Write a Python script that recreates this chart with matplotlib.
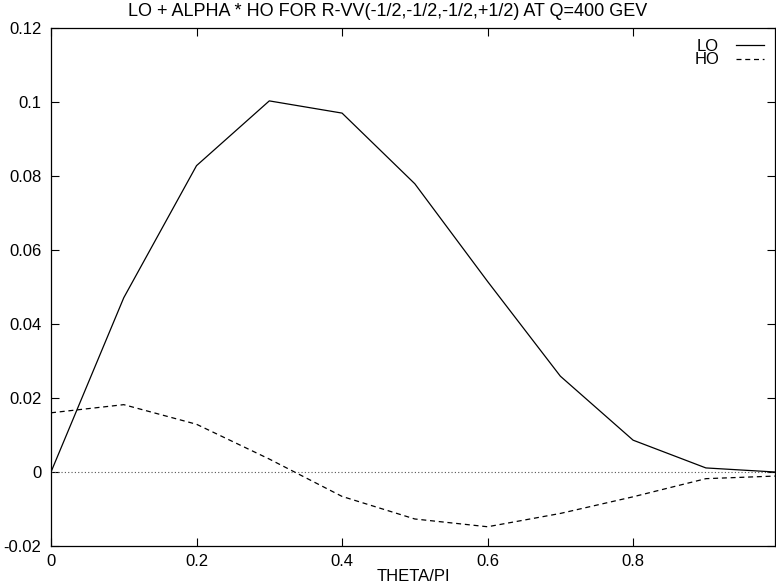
import matplotlib.pyplot as plt
import numpy as np

plt.rcParams['font.family'] = ['Liberation Sans', 'DejaVu Sans']

# theta/pi grid og verdiene lest av figuren
theta = [0.0, 0.1, 0.2, 0.3, 0.4, 0.5, 0.6, 0.7, 0.8, 0.9, 0.995]
lo = [0.0, 0.0471, 0.0828, 0.1003, 0.0970, 0.0779, 0.0515, 0.0259, 0.0086, 0.0011, 0.0]
ho = [0.0160, 0.0182, 0.0129, 0.0035, -0.0066, -0.0127, -0.0148, -0.0112, -0.0067, -0.0018, -0.0011]

xticks = [0, 0.2, 0.4, 0.6, 0.8]
yticks = [-0.02, 0, 0.02, 0.04, 0.06, 0.08, 0.1, 0.12]

fig = plt.figure(figsize=(7.76, 5.86), dpi=100)
ax = fig.add_axes([51/776, 40/586, 724/776, 518/586])

ax.axhline(0, color='#555555', lw=0.8, ls=(0, (1, 2)))
ax.plot(theta, lo, color='black', lw=0.9, label='LO')
ax.plot(theta, ho, color='black', lw=0.9, ls=(0, (4, 3)), label='HO')

ax.set_xlim(0, 0.995)
ax.set_ylim(-0.02, 0.12)
ax.set_xticks(xticks)
ax.set_xticklabels(['0', '0.2', '0.4', '0.6', '0.8'])
ax.set_yticks(yticks)
ax.set_yticklabels(['-0.02', '0', '0.02', '0.04', '0.06', '0.08', '0.1', '0.12'])
ax.tick_params(direction='in', top=True, right=True, length=6, width=0.8, labelsize=12)
ax.tick_params(axis='x', pad=6)
ax.tick_params(axis='y', pad=7)
for s in ax.spines.values():
    s.set_linewidth(0.9)

# tittelen står midt på hele figuren, ikke midt over aksene
fig.text(0.5, 1 - 12/586, 'LO + ALPHA * HO FOR R-VV(-1/2,-1/2,-1/2,+1/2) AT Q=400 GEV',
         fontsize=13, ha='center', va='center')
ax.set_xlabel('THETA/PI', fontsize=12, labelpad=0)

ax.legend(loc='upper right', frameon=False, markerfirst=False, fontsize=12,
          handlelength=1.7, handletextpad=1.0, labelspacing=-0.08, borderaxespad=0.25)

fig.savefig('out.png', dpi=100)
